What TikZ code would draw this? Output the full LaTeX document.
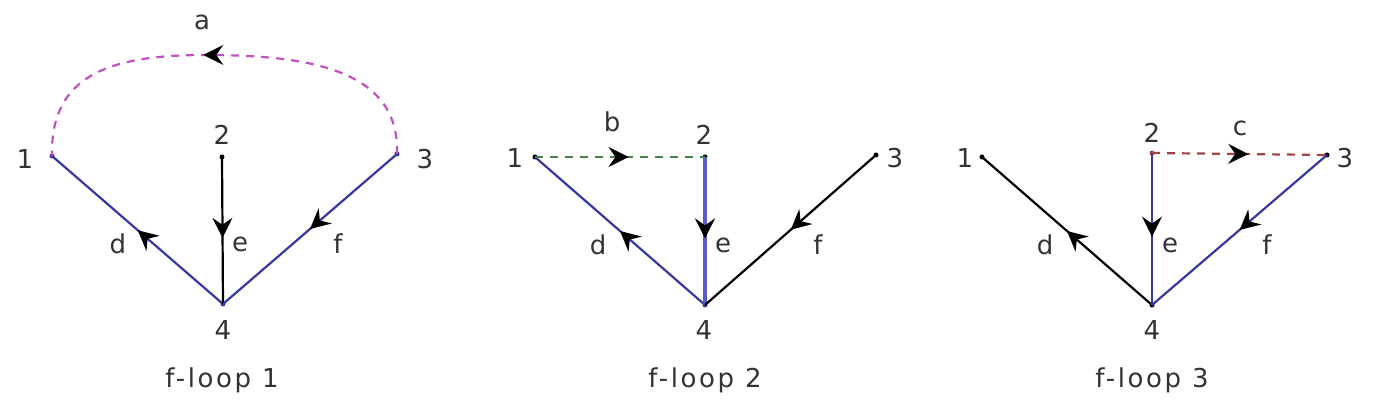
\documentclass[tikz,border=0pt]{standalone}
\usepackage{fontspec}
\setmainfont[LetterSpace=10]{DejaVu Sans}
\usetikzlibrary{arrows.meta,decorations.markings}
\definecolor{edgeblue}{RGB}{55,55,160}
\definecolor{treeblue}{RGB}{90,90,200}
\definecolor{loopmag}{RGB}{195,80,195}
\definecolor{loopgreen}{RGB}{70,130,70}
\definecolor{loopred}{RGB}{160,70,70}
\tikzset{
  vert/.style={circle,fill,inner sep=0pt,minimum size=2.5pt},
  lbl/.style={font=\fontsize{13}{15}\selectfont,text=black!80,inner sep=0pt},
  edge/.style={line width=1.1pt},
  chord/.style={line width=1.1pt,dash pattern=on 4pt off 3.5pt},
  midarr/.style={postaction={solid,decorate,
    decoration={markings,mark=at position #1 with {\arrow[black]{Stealth[length=10pt,width=10pt,inset=3.5pt]}}}}}
}
\begin{document}
\begin{tikzpicture}[x=0.5pt,y=-0.5pt]
\useasboundingbox (0,0) rectangle (1378,405);
% f-loop 1
\node[vert,edgeblue](A1) at (52,156){};
\node[vert](A2) at (222,157){};
\node[vert,edgeblue](A3) at (397,154){};
\node[vert,edgeblue](A4) at (223,304){};
\draw[edge,edgeblue,midarr=0.5](A4.center)--(A1.center);
\draw[edge,black,midarr=0.55](A2.center)--(A4.center);
\draw[edge,edgeblue,midarr=0.5](A3.center)--(A4.center);
\draw[chord,loopmag,midarr=0.54](A3.center) .. controls (400,70) and (310,55) .. (205,55)
  .. controls (110,55) and (50,75) .. (A1.center);
\draw(25,159)node[lbl]{1}
(222,135)node[lbl]{2}
(425,159)node[lbl]{3}
(223,330)node[lbl]{4}
(202,22)node[lbl]{a}
(118,244)node[lbl]{d}
(240,244)node[lbl]{e}
(338,244)node[lbl]{f}
(222,380)node[lbl]{f-loop 1};
% f-loop 2
\node[vert](B1) at (535,157){};
\node[vert](B2) at (705,157){};
\node[vert](B3) at (876,155){};
\node[vert,edgeblue](B4) at (705,305){};
\draw[edge,edgeblue,midarr=0.5](B4.center)--(B1.center);
\draw[line width=1.7pt,treeblue,midarr=0.55](B2.center)--(B4.center);
\draw[edge,black,midarr=0.5](B3.center)--(B4.center);
\draw[chord,loopgreen,midarr=0.55](B1.center)--(B2.center);
\draw(515,158)node[lbl]{1}
(704,135)node[lbl]{2}
(895,158)node[lbl]{3}
(704,330)node[lbl]{4}
(612,122)node[lbl]{b}
(598,245)node[lbl]{d}
(723,245)node[lbl]{e}
(818,245)node[lbl]{f}
(705,380)node[lbl]{f-loop 2};
% f-loop 3
\node[vert](C1) at (982,157){};
\node[vert,loopred](C2) at (1152,153){};
\node[vert](C3) at (1327,155){};
\node[vert](C4) at (1152,305){};
\draw[edge,black,midarr=0.5](C4.center)--(C1.center);
\draw[edge,edgeblue,midarr=0.55](C2.center)--(C4.center);
\draw[edge,edgeblue,midarr=0.5](C3.center)--(C4.center);
\draw[chord,loopred,midarr=0.55](C2.center)--(C3.center);
\draw(965,158)node[lbl]{1}
(1152,133)node[lbl]{2}
(1345,158)node[lbl]{3}
(1152,330)node[lbl]{4}
(1240,128)node[lbl]{c}
(1045,245)node[lbl]{d}
(1170,245)node[lbl]{e}
(1267,245)node[lbl]{f}
(1152,380)node[lbl]{f-loop 3};
\end{tikzpicture}
\end{document}
